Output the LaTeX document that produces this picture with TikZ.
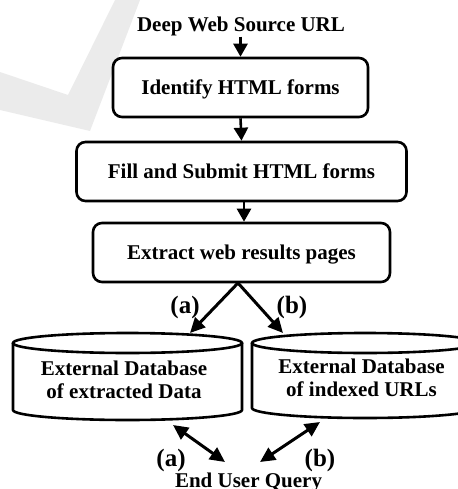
\documentclass[tikz,border=0pt]{standalone}
\usepackage{fontspec}
\setmainfont{Liberation Serif}
\usetikzlibrary{arrows.meta}
\definecolor{markgray}{HTML}{EBEBEB}
\tikzset{
  stepbox/.style={draw, line width=2.6pt, rounded corners=9pt, minimum height=59pt,
    inner sep=0pt, font=\fontsize{21}{23}\selectfont\bfseries, text height=14pt, text depth=0pt},
  flow/.style={line width=2.6pt, -{Triangle[length=13pt,width=14pt]}},
  diag/.style={line width=3pt, -{Triangle[length=15pt,width=14pt]}},
  twoway/.style={line width=3pt, {Triangle[length=15pt,width=14pt]}-{Triangle[length=15pt,width=14pt]}},
  dbline/.style={line width=2.6pt},
  txt/.style={font=\fontsize{21}{23}\selectfont\bfseries, inner sep=0pt},
  dbtxt/.style={font=\fontsize{21}{23}\selectfont\bfseries, inner sep=0pt, align=center},
  tag/.style={font=\fontsize{25}{27}\selectfont\bfseries, inner sep=0pt, anchor=base},
}
\begin{document}
\begin{tikzpicture}[x=1pt, y=-1pt]
\useasboundingbox (0,0) rectangle (457,489);

% faint check mark in the background
\fill[markgray] (0,72) -- (68,95) -- (115,0) -- (140,0) -- (90,131) -- (0,110) -- cycle;

% process chain
\node[txt, anchor=base] (src) at (241,32) {Deep Web Source URL};
\node[stepbox, minimum width=255pt] (box1) at (240.5,87.5) {Identify HTML forms};
\node[stepbox, minimum width=330pt] (box2) at (241.5,171.5) {Fill and Submit HTML forms};
\node[stepbox, minimum width=297pt] (box3) at (241.5,252.5) {Extract web results pages};

\draw[flow] (src.south -| box1.north) -- (box1.north);
\draw[flow] (box1.south) -- (box2.north);
\draw[flow] ([xshift=2.5pt]box2.south) -- ([xshift=2.5pt]box3.north);

% database of extracted data
\draw[dbline] (127.5,343) ellipse [x radius=114.5pt, y radius=10pt];
\draw[dbline] (13,343) -- (13,410) arc[start angle=180, end angle=360, x radius=114.5pt, y radius=10pt] -- (242,343);
\node[dbtxt] (db1) at (124,379.5) {External Database\\of extracted Data};

% database of indexed URLs
\draw[dbline] (365,343) ellipse [x radius=113pt, y radius=10pt];
\draw[dbline] (252,343) -- (252,408) arc[start angle=180, end angle=360, x radius=113pt, y radius=10pt] -- (478,343);
\node[dbtxt] (db2) at (361.5,378) {External Database\\of indexed URLs};

\coordinate (split) at (238,283);
\coordinate (db1in) at (190,333);
\coordinate (db2in) at (283,333);
\coordinate (db1out) at (173,425);
\coordinate (db2out) at (320,422);

\draw[diag] (split) -- (db1in);
\draw[diag] (split) -- (db2in);
\node[tag] (ta) at (185,313) {(a)};
\node[tag] (tb) at (292,313) {(b)};

% user query
\node[txt, anchor=base] (query) at (248.5,487) {End User Query};
\coordinate (qa) at (225,462);
\coordinate (qb) at (260,462);
\draw[twoway] (db1out) -- (qa);
\draw[twoway] (db2out) -- (qb);
\node[tag] (ba) at (171,466) {(a)};
\node[tag] (bb) at (320,466) {(b)};
\end{tikzpicture}
\end{document}
